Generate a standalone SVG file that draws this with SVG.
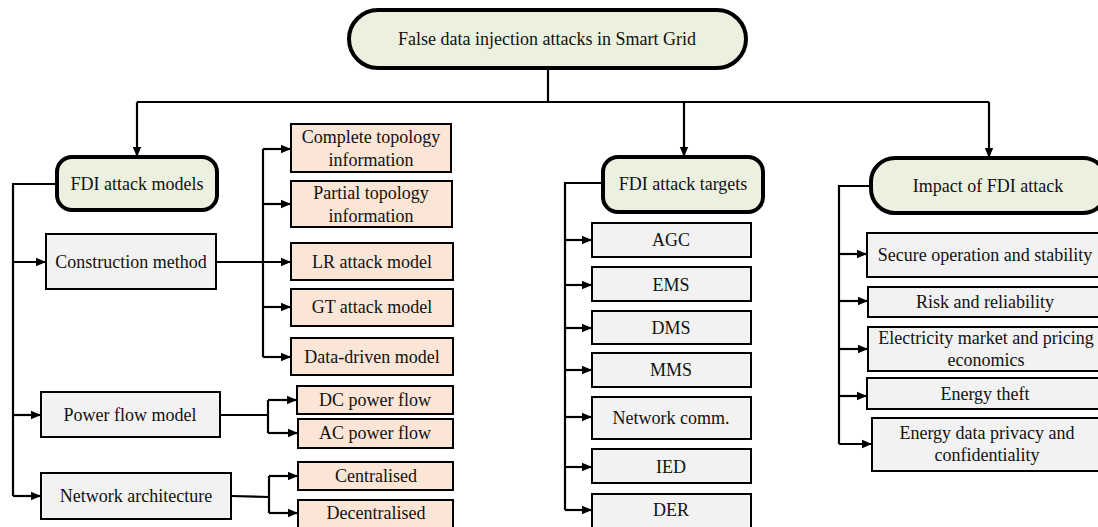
<svg xmlns="http://www.w3.org/2000/svg" width="1098" height="527" viewBox="0 0 1098 527">
<defs>
<style>
text{font-family:"Liberation Serif","Times New Roman",serif;font-size:18px;fill:#111;text-anchor:middle}
.main{fill:#EBF1DE;stroke:#000;stroke-width:4}
.org{fill:#FBE5D6;stroke:#000;stroke-width:2}
.gry{fill:#F2F2F2;stroke:#000;stroke-width:2}
.c path{fill:none;stroke:#000;stroke-width:2.2}
.a{marker-end:url(#ah)}
</style>
<marker id="ah" markerWidth="10" markerHeight="10" refX="10" refY="5" orient="auto" markerUnits="userSpaceOnUse"><path d="M0,0.8 L10,5 L0,9.2 Z" fill="#000"/></marker>
</defs>
<rect width="1098" height="527" fill="#fff"/>
<g class="c" id="connectors">
<path d="M548,68 V102"/>
<path d="M137,102 H989"/>
<path class="a" d="M137,102 V157"/>
<path class="a" d="M684,102 V157"/>
<path class="a" d="M989,102 V158"/>
<path d="M57,184 H13 V496"/>
<path class="a" d="M13,262 H46"/>
<path class="a" d="M13,415 H41"/>
<path class="a" d="M13,496 H41"/>
<path class="a" d="M216,262 H291"/>
<path d="M263,149 V357"/>
<path class="a" d="M263,149 H291"/>
<path class="a" d="M263,204 H291"/>
<path class="a" d="M263,307 H291"/>
<path class="a" d="M263,357 H291"/>
<path d="M220,415 H268 M268,400 V433"/>
<path class="a" d="M268,400 H297"/>
<path class="a" d="M268,433 H298"/>
<path d="M231,496 L269,497 M269,476 V513"/>
<path class="a" d="M269,476 H298"/>
<path class="a" d="M269,513 H298"/>
<path d="M603,183 H565 V510"/>
<path class="a" d="M565,240 H592"/>
<path class="a" d="M565,285 H592"/>
<path class="a" d="M565,328 H592"/>
<path class="a" d="M565,370 H592"/>
<path class="a" d="M565,417 H592"/>
<path class="a" d="M565,467 H592"/>
<path class="a" d="M565,510 H592"/>
<path d="M871,186 H839 V444"/>
<path class="a" d="M839,254 H867"/>
<path class="a" d="M839,301 H868"/>
<path class="a" d="M839,349 H868"/>
<path class="a" d="M839,396 H867"/>
<path class="a" d="M839,444 H872"/>
</g>
<g id="root"><rect class="main" x="349" y="10" width="397" height="58" rx="29"/><text x="547" y="45">False data injection attacks in Smart Grid</text></g>
<g id="models"><rect class="main" x="57" y="157" width="160" height="53" rx="15"/><text x="137" y="190">FDI attack models</text></g>
<g id="targets"><rect class="main" x="603" y="157" width="160" height="55" rx="15"/><text x="683" y="190">FDI attack targets</text></g>
<g id="impact"><rect class="main" x="871" y="158" width="236" height="55" rx="24"/><text x="988" y="192">Impact of FDI attack</text></g>
<g id="construction"><rect class="gry" x="46" y="234" width="170" height="55"/><text x="131" y="268">Construction method</text></g>
<g id="powerflow"><rect class="gry" x="41" y="392" width="179" height="45"/><text x="130" y="421">Power flow model</text></g>
<g id="netarch"><rect class="gry" x="41" y="473" width="190" height="46"/><text x="136" y="502">Network architecture</text></g>
<g id="complete"><rect class="org" x="291" y="124" width="160" height="48"/><text x="371" y="143">Complete topology</text><text x="371" y="166">information</text></g>
<g id="partial"><rect class="org" x="291" y="181" width="161" height="46"/><text x="371" y="199">Partial topology</text><text x="371" y="222">information</text></g>
<g id="lr"><rect class="org" x="291" y="243" width="162" height="37"/><text x="372" y="268">LR attack model</text></g>
<g id="gt"><rect class="org" x="291" y="289" width="162" height="37"/><text x="372" y="313">GT attack model</text></g>
<g id="dd"><rect class="org" x="291" y="338" width="162" height="37"/><text x="372" y="363">Data-driven model</text></g>
<g id="dc"><rect class="org" x="297" y="386" width="156" height="28"/><text x="375" y="406">DC power flow</text></g>
<g id="ac"><rect class="org" x="298" y="419" width="155" height="29"/><text x="375" y="439">AC power flow</text></g>
<g id="central"><rect class="org" x="298" y="462" width="155" height="28"/><text x="376" y="482">Centralised</text></g>
<g id="decentral"><rect class="org" x="298" y="500" width="155" height="32"/><text x="376" y="519">Decentralised</text></g>
<g id="agc"><rect class="gry" x="592" y="223" width="159" height="34"/><text x="671" y="246">AGC</text></g>
<g id="ems"><rect class="gry" x="592" y="267" width="159" height="34"/><text x="671" y="291">EMS</text></g>
<g id="dms"><rect class="gry" x="592" y="311" width="159" height="33"/><text x="671" y="334">DMS</text></g>
<g id="mms"><rect class="gry" x="592" y="353" width="159" height="34"/><text x="671" y="376">MMS</text></g>
<g id="netcomm"><rect class="gry" x="592" y="397" width="159" height="42"/><text x="671" y="424">Network comm.</text></g>
<g id="ied"><rect class="gry" x="592" y="449" width="159" height="34"/><text x="671" y="473">IED</text></g>
<g id="der"><rect class="gry" x="592" y="494" width="159" height="38"/><text x="671" y="516">DER</text></g>
<g id="secure"><rect class="gry" x="867" y="233" width="236" height="44"/><text x="985" y="261">Secure operation and stability</text></g>
<g id="risk"><rect class="gry" x="868" y="287" width="235" height="30"/><text x="985" y="308">Risk and reliability</text></g>
<g id="market"><rect class="gry" x="868" y="327" width="235" height="44"/><text x="986" y="344">Electricity market and pricing</text><text x="986" y="366">economics</text></g>
<g id="theft"><rect class="gry" x="867" y="378" width="236" height="31"/><text x="985" y="400">Energy theft</text></g>
<g id="privacy"><rect class="gry" x="872" y="418" width="231" height="53"/><text x="987" y="439">Energy data privacy and</text><text x="987" y="461">confidentiality</text></g>
</svg>
